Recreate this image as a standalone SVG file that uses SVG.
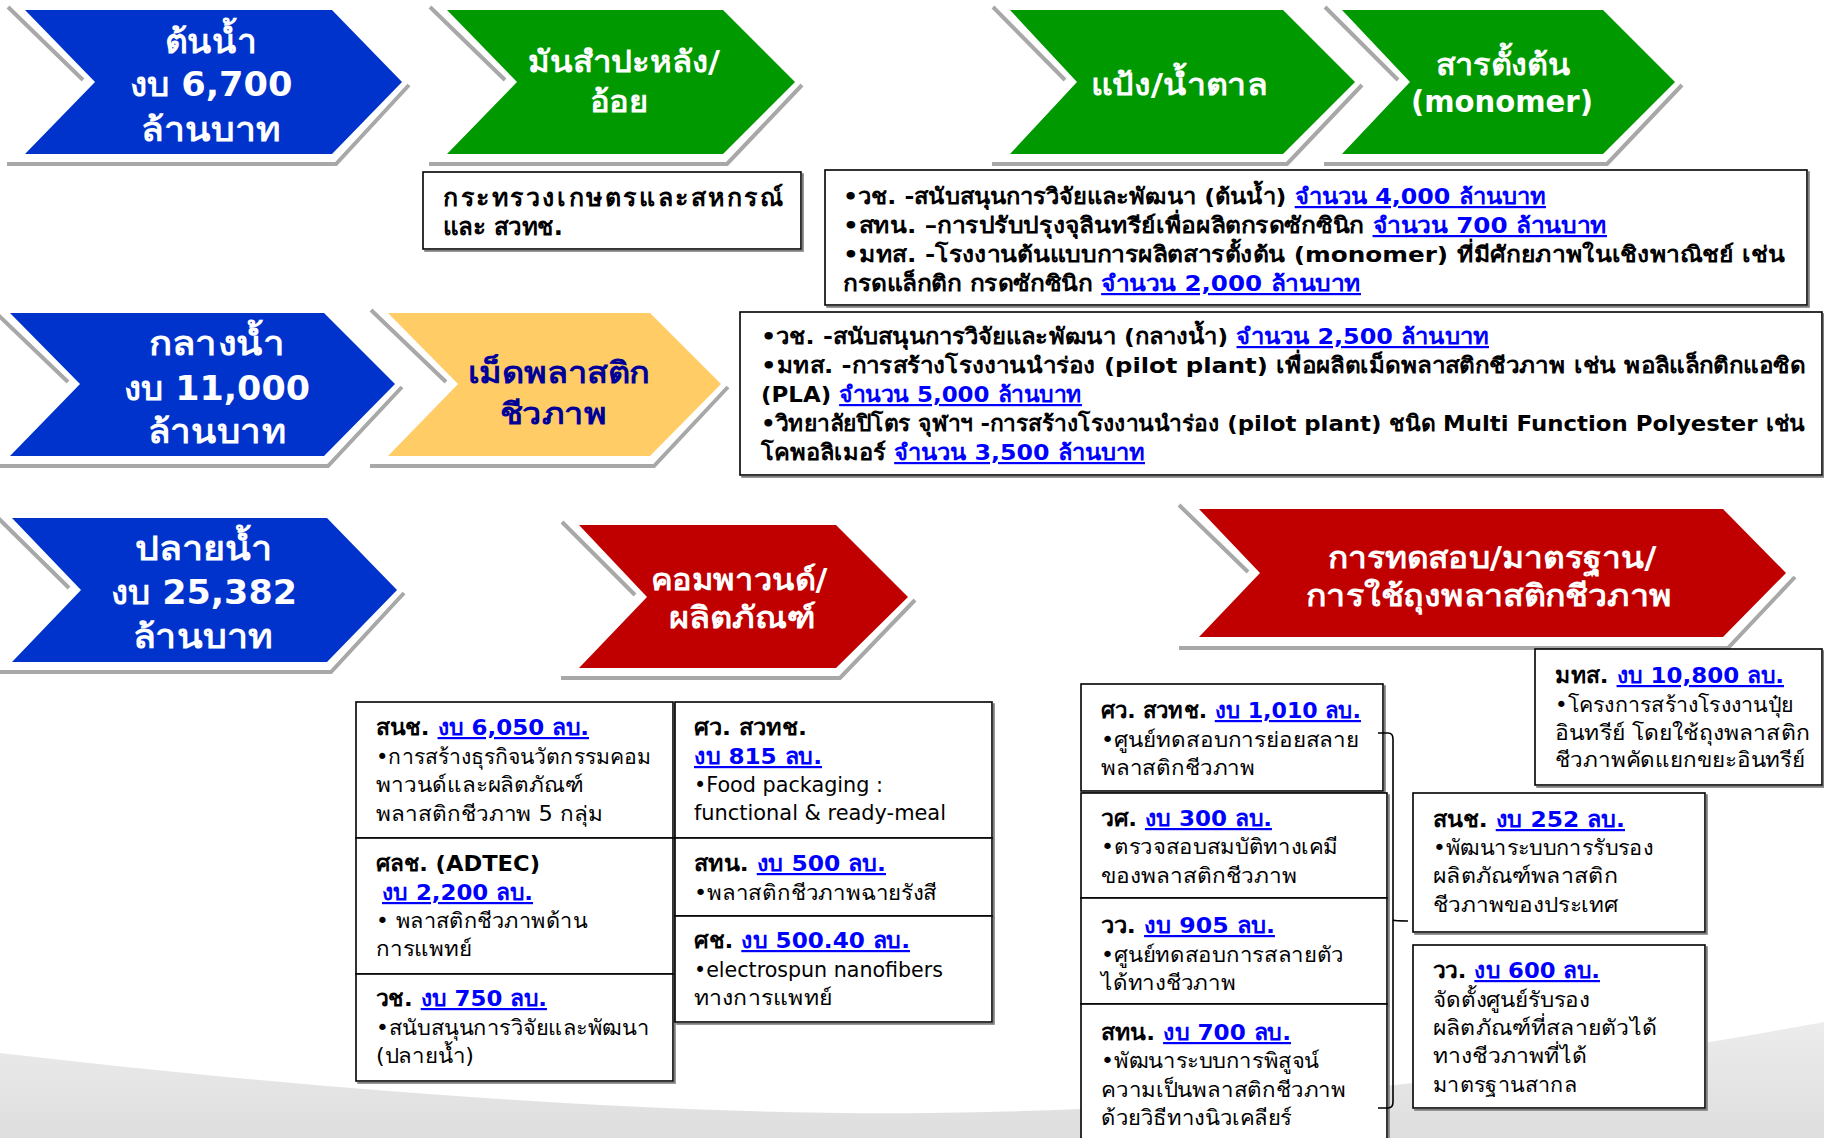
<svg xmlns="http://www.w3.org/2000/svg" width="1824" height="1138" viewBox="0 0 1824 1138">
<defs>
<linearGradient id="bgG" x1="0" y1="0" x2="0" y2="1">
<stop offset="0" stop-color="#ececec"/><stop offset="1" stop-color="#dedede"/>
</linearGradient>
<filter id="ds" x="-5%" y="-5%" width="115%" height="120%"><feDropShadow dx="2" dy="2" stdDeviation="0.6" flood-color="#7f7f7f"/></filter>
</defs>
<style>
text{font-family:"DejaVu Sans","Noto Sans",sans-serif}
.cw{fill:#fff;font-weight:bold;text-anchor:middle}
.cy{fill:#000099;font-weight:bold;text-anchor:middle}
.sh{fill:none;stroke:#a8a8a8;stroke-width:4}
.bx{fill:#fff;stroke:#000;stroke-width:1.6;filter:url(#ds)}
.tb{font-weight:bold;font-size:22px;fill:#000}
.tr{font-size:21px;fill:#000}
.big{font-size:25px}
.lk{fill:#0000ff;font-weight:bold;text-decoration:underline}
.blue{fill:#0033cc}.green{fill:#009900}.red{fill:#c00000}.yel{fill:#ffcc66}
</style>
<path d="M0,1053 C300,1088 650,1116 930,1113 C1250,1110 1550,1072 1824,1022 V1138 H0 Z" fill="url(#bgG)"/>

<g id="chev-tonnam">
<path class="sh" d="M8,7 L83,80 M7,164 H336 L409,85"/>
<polygon class="blue" points="25,10 332,10 402,82 332,154 25,154 95,82"/>
<text class="cw" font-size="33"><tspan x="211" y="53" textLength="92" lengthAdjust="spacingAndGlyphs">ต้นน้ำ</tspan><tspan x="211" y="96" textLength="163" lengthAdjust="spacingAndGlyphs">งบ 6,700</tspan><tspan x="211" y="141" textLength="140" lengthAdjust="spacingAndGlyphs">ล้านบาท</tspan></text>
</g>
<g id="chev-mansampalang">
<path class="sh" d="M430,7 L505,80 M429,164 H727 L802,85"/>
<polygon class="green" points="447,10 723,10 795,82 723,154 447,154 517,82"/>
<text class="cw" font-size="30"><tspan x="624" y="72" textLength="192" lengthAdjust="spacingAndGlyphs">มันสำปะหลัง/</tspan><tspan x="619" y="112" textLength="59" lengthAdjust="spacingAndGlyphs">อ้อย</tspan></text>
</g>
<g id="chev-paeng">
<path class="sh" d="M993,7 L1065,80 M992,164 H1287 L1362,85"/>
<polygon class="green" points="1010,10 1283,10 1355,82 1283,154 1010,154 1077,82"/>
<text class="cw" font-size="30" x="1179" y="95" textLength="176" lengthAdjust="spacingAndGlyphs">แป้ง/น้ำตาล</text>
</g>
<g id="chev-monomer">
<path class="sh" d="M1325,7 L1398,80 M1324,164 H1607 L1682,85"/>
<polygon class="green" points="1342,10 1603,10 1675,82 1603,154 1342,154 1410,82"/>
<text class="cw" font-size="30"><tspan x="1503" y="75" textLength="135" lengthAdjust="spacingAndGlyphs">สารตั้งต้น</tspan><tspan x="1502" y="112" textLength="182" lengthAdjust="spacingAndGlyphs">(monomer)</tspan></text>
</g>

<g id="box-kaset">
<rect class="bx" x="423" y="172" width="378" height="77"/>
<text class="tb big"><tspan x="443" y="206" textLength="340" lengthAdjust="spacing">กระทรวงเกษตรและสหกรณ์</tspan><tspan x="443" y="235" textLength="120" lengthAdjust="spacingAndGlyphs">และ สวทช.</tspan></text>
</g>
<g id="box-upstream">
<rect class="bx" x="825" y="170" width="982" height="135"/>
<text class="tb" x="843" y="204" textLength="703" lengthAdjust="spacingAndGlyphs">•วช. -สนับสนุนการวิจัยและพัฒนา (ต้นน้ำ) <tspan class="lk">จำนวน 4,000 ล้านบาท</tspan></text>
<text class="tb" x="843" y="233" textLength="764" lengthAdjust="spacingAndGlyphs">•สทน. –การปรับปรุงจุลินทรีย์เพื่อผลิตกรดซักซินิก <tspan class="lk">จำนวน 700 ล้านบาท</tspan></text>
<text class="tb" x="843" y="262" textLength="942" lengthAdjust="spacingAndGlyphs">•มทส. -โรงงานต้นแบบการผลิตสารตั้งต้น (monomer) ที่มีศักยภาพในเชิงพาณิชย์ เช่น</text>
<text class="tb" x="843" y="291" textLength="518" lengthAdjust="spacingAndGlyphs">กรดแล็กติก กรดซักซินิก <tspan class="lk">จำนวน 2,000 ล้านบาท</tspan></text>
</g>

<g id="chev-klangnam">
<path class="sh" d="M-7,310 L68,382 M-8,466 H328 L402,387"/>
<polygon class="blue" points="10,313 324,313 395,384 324,456 10,456 80,384"/>
<text class="cw" font-size="33"><tspan x="217" y="355" textLength="136" lengthAdjust="spacingAndGlyphs">กลางน้ำ</tspan><tspan x="217" y="400" textLength="186" lengthAdjust="spacingAndGlyphs">งบ 11,000</tspan><tspan x="217" y="443" textLength="138" lengthAdjust="spacingAndGlyphs">ล้านบาท</tspan></text>
</g>
<g id="chev-pellet">
<path class="sh" d="M371,310 L446,382 M370,466 H654 L728,387"/>
<polygon class="yel" points="388,313 650,313 721,384 650,456 388,456 458,384"/>
<text class="cy" font-size="30"><tspan x="559" y="383" textLength="182" lengthAdjust="spacingAndGlyphs">เม็ดพลาสติก</tspan><tspan x="553" y="424" textLength="107" lengthAdjust="spacingAndGlyphs">ชีวภาพ</tspan></text>
</g>
<g id="box-midstream">
<rect class="bx" x="740" y="312" width="1082" height="163"/>
<text class="tb" x="761" y="344" textLength="728" lengthAdjust="spacingAndGlyphs">•วช. -สนับสนุนการวิจัยและพัฒนา (กลางน้ำ) <tspan class="lk">จำนวน 2,500 ล้านบาท</tspan></text>
<text class="tb" x="761" y="373" textLength="1044" lengthAdjust="spacingAndGlyphs">•มทส. -การสร้างโรงงานนำร่อง (pilot plant) เพื่อผลิตเม็ดพลาสติกชีวภาพ เช่น พอลิแล็กติกแอซิด</text>
<text class="tb" x="761" y="402" textLength="321" lengthAdjust="spacingAndGlyphs">(PLA) <tspan class="lk">จำนวน 5,000 ล้านบาท</tspan></text>
<text class="tb" x="761" y="431" textLength="1044" lengthAdjust="spacingAndGlyphs">•วิทยาลัยปิโตร จุฬาฯ -การสร้างโรงงานนำร่อง (pilot plant) ชนิด Multi Function Polyester เช่น</text>
<text class="tb" x="761" y="460" textLength="384" lengthAdjust="spacingAndGlyphs">โคพอลิเมอร์ <tspan class="lk">จำนวน 3,500 ล้านบาท</tspan></text>
</g>

<g id="chev-plainam">
<path class="sh" d="M-5,515 L69,588 M-6,672 H331 L404,593"/>
<polygon class="blue" points="12,518 327,518 397,590 327,662 12,662 81,590"/>
<text class="cw" font-size="33"><tspan x="204" y="560" textLength="138" lengthAdjust="spacingAndGlyphs">ปลายน้ำ</tspan><tspan x="204" y="604" textLength="186" lengthAdjust="spacingAndGlyphs">งบ 25,382</tspan><tspan x="203" y="648" textLength="141" lengthAdjust="spacingAndGlyphs">ล้านบาท</tspan></text>
</g>
<g id="chev-compound">
<path class="sh" d="M562,522 L635,595 M561,678 H840 L915,600"/>
<polygon class="red" points="579,525 836,525 908,597 836,668 579,668 647,597"/>
<text class="cw" font-size="30"><tspan x="739" y="590" textLength="177" lengthAdjust="spacingAndGlyphs">คอมพาวนด์/</tspan><tspan x="742" y="628" textLength="147" lengthAdjust="spacingAndGlyphs">ผลิตภัณฑ์</tspan></text>
</g>
<g id="chev-testing">
<path class="sh" d="M1179,505 L1248,572 M1179,648 H1728 L1795,577"/>
<polygon class="red" points="1199,509 1723,509 1786,573 1723,637 1199,637 1260,573"/>
<text class="cw" font-size="30"><tspan x="1492" y="568" textLength="329" lengthAdjust="spacingAndGlyphs">การทดสอบ/มาตรฐาน/</tspan><tspan x="1489" y="606" textLength="366" lengthAdjust="spacingAndGlyphs">การใช้ถุงพลาสติกชีวภาพ</tspan></text>
</g>

<g id="box-nia-6050">
<rect class="bx" x="356" y="702" width="317" height="136"/>
<text class="tb" x="376" y="735" textLength="213" lengthAdjust="spacingAndGlyphs">สนช. <tspan class="lk">งบ 6,050 ลบ.</tspan></text>
<text class="tr"><tspan x="376" y="764" textLength="275" lengthAdjust="spacingAndGlyphs">•การสร้างธุรกิจนวัตกรรมคอม</tspan><tspan x="376" y="792" textLength="207" lengthAdjust="spacingAndGlyphs">พาวนด์และผลิตภัณฑ์</tspan><tspan x="376" y="821" textLength="227" lengthAdjust="spacingAndGlyphs">พลาสติกชีวภาพ 5 กลุ่ม</tspan></text>
</g>
<g id="box-adtec">
<rect class="bx" x="356" y="838" width="317" height="136"/>
<text class="tb" x="376" y="871" textLength="164" lengthAdjust="spacingAndGlyphs">ศลช. (ADTEC)</text>
<text class="tb" x="382" y="900" textLength="151" lengthAdjust="spacingAndGlyphs"><tspan class="lk">งบ 2,200 ลบ.</tspan></text>
<text class="tr"><tspan x="376" y="928" textLength="211" lengthAdjust="spacingAndGlyphs">• พลาสติกชีวภาพด้าน</tspan><tspan x="376" y="956" textLength="96" lengthAdjust="spacingAndGlyphs">การแพทย์</tspan></text>
</g>
<g id="box-nrct-750">
<rect class="bx" x="356" y="974" width="317" height="107"/>
<text class="tb" x="376" y="1006" textLength="171" lengthAdjust="spacingAndGlyphs">วช. <tspan class="lk">งบ 750 ลบ.</tspan></text>
<text class="tr"><tspan x="376" y="1035" textLength="273" lengthAdjust="spacingAndGlyphs">•สนับสนุนการวิจัยและพัฒนา</tspan><tspan x="376" y="1063" textLength="98" lengthAdjust="spacingAndGlyphs">(ปลายน้ำ)</tspan></text>
</g>
<g id="box-mtec-815">
<rect class="bx" x="675" y="702" width="317" height="136"/>
<text class="tb" x="694" y="735" textLength="113" lengthAdjust="spacingAndGlyphs">ศว. สวทช.</text>
<text class="tb" x="694" y="764" textLength="128" lengthAdjust="spacingAndGlyphs"><tspan class="lk">งบ 815 ลบ.</tspan></text>
<text class="tr"><tspan x="694" y="792" textLength="189" lengthAdjust="spacingAndGlyphs">•Food packaging :</tspan><tspan x="694" y="820" textLength="252" lengthAdjust="spacingAndGlyphs">functional &amp; ready-meal</tspan></text>
</g>
<g id="box-tint-500">
<rect class="bx" x="675" y="838" width="317" height="78"/>
<text class="tb" x="694" y="871" textLength="192" lengthAdjust="spacingAndGlyphs">สทน. <tspan class="lk">งบ 500 ลบ.</tspan></text>
<text class="tr" x="694" y="900" textLength="243" lengthAdjust="spacingAndGlyphs">•พลาสติกชีวภาพฉายรังสี</text>
</g>
<g id="box-nanotec">
<rect class="bx" x="675" y="916" width="317" height="106"/>
<text class="tb" x="694" y="948" textLength="216" lengthAdjust="spacingAndGlyphs">ศช. <tspan class="lk">งบ 500.40 ลบ.</tspan></text>
<text class="tr"><tspan x="694" y="977" textLength="249" lengthAdjust="spacingAndGlyphs">•electrospun nanofibers</tspan><tspan x="694" y="1005" textLength="138" lengthAdjust="spacingAndGlyphs">ทางการแพทย์</tspan></text>
</g>

<g id="box-mtec-1010">
<rect class="bx" x="1081" y="684" width="302" height="107"/>
<text class="tb" x="1101" y="718" textLength="260" lengthAdjust="spacingAndGlyphs">ศว. สวทช. <tspan class="lk">งบ 1,010 ลบ.</tspan></text>
<text class="tr"><tspan x="1101" y="747" textLength="258" lengthAdjust="spacingAndGlyphs">•ศูนย์ทดสอบการย่อยสลาย</tspan><tspan x="1101" y="775" textLength="154" lengthAdjust="spacingAndGlyphs">พลาสติกชีวภาพ</tspan></text>
</g>
<g id="box-dss-300">
<rect class="bx" x="1081" y="793" width="306" height="105"/>
<text class="tb" x="1101" y="826" textLength="171" lengthAdjust="spacingAndGlyphs">วศ. <tspan class="lk">งบ 300 ลบ.</tspan></text>
<text class="tr"><tspan x="1101" y="854" textLength="237" lengthAdjust="spacingAndGlyphs">•ตรวจสอบสมบัติทางเคมี</tspan><tspan x="1101" y="883" textLength="196" lengthAdjust="spacingAndGlyphs">ของพลาสติกชีวภาพ</tspan></text>
</g>
<g id="box-tistr-905">
<rect class="bx" x="1081" y="898" width="306" height="106"/>
<text class="tb" x="1101" y="933" textLength="174" lengthAdjust="spacingAndGlyphs">วว.  <tspan class="lk">งบ 905 ลบ.</tspan></text>
<text class="tr"><tspan x="1101" y="962" textLength="243" lengthAdjust="spacingAndGlyphs">•ศูนย์ทดสอบการสลายตัว</tspan><tspan x="1101" y="990" textLength="135" lengthAdjust="spacingAndGlyphs">ได้ทางชีวภาพ</tspan></text>
</g>
<g id="box-tint-700">
<rect class="bx" x="1081" y="1004" width="306" height="150"/>
<text class="tb" x="1101" y="1040" textLength="190" lengthAdjust="spacingAndGlyphs">สทน. <tspan class="lk">งบ 700 ลบ.</tspan></text>
<text class="tr"><tspan x="1101" y="1068" textLength="218" lengthAdjust="spacingAndGlyphs">•พัฒนาระบบการพิสูจน์</tspan><tspan x="1101" y="1097" textLength="245" lengthAdjust="spacingAndGlyphs">ความเป็นพลาสติกชีวภาพ</tspan><tspan x="1101" y="1125" textLength="191" lengthAdjust="spacingAndGlyphs">ด้วยวิธีทางนิวเคลียร์</tspan></text>
</g>
<g id="box-nia-252">
<rect class="bx" x="1413" y="793" width="292" height="139"/>
<text class="tb" x="1433" y="827" textLength="192" lengthAdjust="spacingAndGlyphs">สนช. <tspan class="lk">งบ 252 ลบ.</tspan></text>
<text class="tr"><tspan x="1433" y="855" textLength="220" lengthAdjust="spacingAndGlyphs">•พัฒนาระบบการรับรอง</tspan><tspan x="1433" y="883" textLength="185" lengthAdjust="spacingAndGlyphs">ผลิตภัณฑ์พลาสติก</tspan><tspan x="1433" y="912" textLength="185" lengthAdjust="spacingAndGlyphs">ชีวภาพของประเทศ</tspan></text>
</g>
<g id="box-tistr-600">
<rect class="bx" x="1413" y="945" width="292" height="163"/>
<text class="tb" x="1433" y="978" textLength="167" lengthAdjust="spacingAndGlyphs">วว. <tspan class="lk">งบ 600 ลบ.</tspan></text>
<text class="tr"><tspan x="1433" y="1007" textLength="157" lengthAdjust="spacingAndGlyphs">จัดตั้งศูนย์รับรอง</tspan><tspan x="1433" y="1035" textLength="224" lengthAdjust="spacingAndGlyphs">ผลิตภัณฑ์ที่สลายตัวได้</tspan><tspan x="1433" y="1063" textLength="154" lengthAdjust="spacingAndGlyphs">ทางชีวภาพที่ได้</tspan><tspan x="1433" y="1092" textLength="144" lengthAdjust="spacingAndGlyphs">มาตรฐานสากล</tspan></text>
</g>
<g id="box-sut-10800">
<rect class="bx" x="1535" y="649" width="287" height="136"/>
<text class="tb" x="1555" y="683" textLength="229" lengthAdjust="spacingAndGlyphs">มทส. <tspan class="lk">งบ 10,800 ลบ.</tspan></text>
<text class="tr"><tspan x="1555" y="712" textLength="238" lengthAdjust="spacingAndGlyphs">•โครงการสร้างโรงงานปุ๋ย</tspan><tspan x="1555" y="740" textLength="255" lengthAdjust="spacingAndGlyphs">อินทรีย์ โดยใช้ถุงพลาสติก</tspan><tspan x="1555" y="767" textLength="250" lengthAdjust="spacingAndGlyphs">ชีวภาพคัดแยกขยะอินทรีย์</tspan></text>
</g>

<g id="connectors" fill="none" stroke="#000" stroke-width="1.6">
<path d="M1378,733 H1388 Q1393,733 1393,739 V1102 Q1393,1108 1388,1108 H1378"/>
<path d="M1393,920 Q1395,921 1408,921"/>
</g>
</svg>
